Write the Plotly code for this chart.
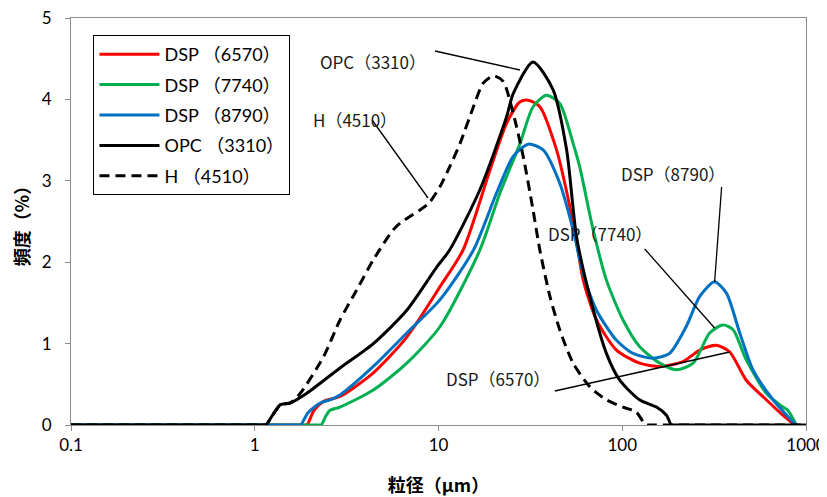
import plotly.graph_objects as go

# ---- data (particle size in µm, frequency in %) ----
dsp6570_x = [0.1, 0.5, 1.5, 1.9, 1.93, 2.1, 2.37, 2.91, 4.42, 6.72, 10.2, 13.6, 19.05, 23.5, 27.8, 30.8, 35.6, 43.9, 50.0, 56.4, 61.3, 72.4, 93, 124.5, 160, 214, 264, 325, 384, 473, 608, 748, 866]
dsp6570_y = [0, 0, 0, 0, 0, 0.18, 0.29, 0.35, 0.64, 1.08, 1.70, 2.15, 3.13, 3.71, 3.97, 3.99, 3.91, 3.38, 2.85, 2.25, 1.78, 1.29, 0.92, 0.76, 0.72, 0.78, 0.92, 0.98, 0.90, 0.55, 0.31, 0.12, 0]

dsp7740_x = [0.1, 0.5, 1.5, 2.25, 2.3, 2.45, 2.57, 2.91, 4.42, 6.72, 10.2, 16.8, 21.6, 27.8, 32.7, 38.7, 45.7, 54, 58.7, 69.4, 82, 101, 124.5, 160, 197, 243, 299, 353, 401, 473, 608, 718, 796, 885]
dsp7740_y = [0, 0, 0, 0, 0, 0.12, 0.18, 0.22, 0.43, 0.76, 1.21, 2.15, 2.85, 3.46, 3.91, 4.05, 3.95, 3.46, 3.17, 2.40, 1.78, 1.29, 0.96, 0.76, 0.68, 0.76, 1.13, 1.23, 1.17, 0.80, 0.39, 0.25, 0.18, 0]

dsp8790_x = [0.1, 0.5, 1.3, 1.75, 1.78, 1.95, 2.27, 2.57, 2.91, 4.42, 6.72, 10.2, 15.5, 20.7, 25.5, 30.8, 37.1, 45.7, 54, 61.3, 72.4, 93, 114.5, 147, 181, 223, 264, 318, 369, 436, 514, 661, 847, 880]
dsp8790_y = [0, 0, 0, 0, 0, 0.15, 0.27, 0.31, 0.37, 0.72, 1.13, 1.54, 2.15, 2.85, 3.30, 3.45, 3.38, 2.97, 2.40, 1.86, 1.41, 1.04, 0.88, 0.82, 0.88, 1.21, 1.58, 1.76, 1.62, 1.13, 0.68, 0.31, 0.04, 0]

opc3310_x = [0.1, 0.4, 0.9, 1.12, 1.15, 1.25, 1.38, 1.56, 1.92, 2.91, 4.42, 6.72, 9.78, 11.5, 16.8, 23.5, 25.5, 32.7, 42, 49.8, 56.4, 66.6, 82, 96.9, 124, 153.5, 174, 185, 190, 300, 1000]
opc3310_y = [0, 0, 0, 0, 0, 0.12, 0.25, 0.27, 0.39, 0.70, 1.00, 1.41, 1.94, 2.15, 2.89, 3.79, 4.07, 4.46, 4.12, 3.38, 2.31, 1.58, 0.88, 0.55, 0.31, 0.22, 0.12, 0, 0, 0, 0]

h4510_x = [0.1, 0.4, 0.9, 1.12, 1.15, 1.25, 1.38, 1.56, 1.77, 2.37, 2.91, 3.59, 4.42, 5.68, 6.18, 8.81, 10.2, 11.5, 13.1, 15.5, 17.5, 19.9, 22.5, 25.5, 28.9, 32.7, 35.6, 40.4, 45.7, 54, 66.6, 82, 101, 119, 130, 136, 140, 300, 1000]
h4510_y = [0, 0, 0, 0, 0, 0.12, 0.25, 0.27, 0.39, 0.84, 1.29, 1.66, 2.03, 2.40, 2.48, 2.72, 2.93, 3.17, 3.46, 3.91, 4.20, 4.29, 4.22, 3.83, 3.30, 2.64, 2.15, 1.58, 1.17, 0.76, 0.47, 0.31, 0.22, 0.16, 0.04, 0, 0, 0, 0]

series_names = ["DSP（6570）", "DSP（7740）", "DSP（8790）", "OPC（3310）", "H（4510）"]
legend_names = ["DSP （6570）", "DSP （7740）", "DSP （8790）", "OPC （3310）", "H （4510）"]
x_tick_vals = [0.1, 1, 10, 100, 1000]
x_tick_text = ["0.1", "1", "10", "100", "1000"]
y_tick_vals = [0, 1, 2, 3, 4, 5]

colors = ["#FF0000", "#00B050", "#0070C0", "#000000", "#000000"]
dashes = ["solid", "solid", "solid", "solid", "10px,6px"]
xs = [dsp6570_x, dsp7740_x, dsp8790_x, opc3310_x, h4510_x]
ys = [dsp6570_y, dsp7740_y, dsp8790_y, opc3310_y, h4510_y]

LAT = "Lato, 'Noto Sans CJK JP', sans-serif"
CJK = "'Noto Sans CJK JP', sans-serif"

fig = go.Figure()
for nm, x, y, c, d in zip(legend_names, xs, ys, colors, dashes):
    fig.add_trace(go.Scatter(
        x=x, y=y, mode="lines", name=nm, legendgroup=nm,
        line=dict(color=c, width=3, dash=d, shape="spline", smoothing=0.7),
    ))

# the page places the figure 8px in from the window's top-left corner
OFF = 8
W, H = 827 - OFF, 497 - OFF
# plot area in window pixels: x 70.5..806.5, y 18..425
WL, WR, WT, WB = 70.5, 806.5, 18, 425
def px(xp):
    return (xp - WL) / (WR - WL)
def py(yp):
    return (WB - yp) / (WB - WT)

labels = [
    # text, text centre (window px), leader line start, end
    (series_names[3], 373, 47, (435, 51), (520, 70)),
    (series_names[4], 355, 105, (372, 120), (428, 198)),
    (series_names[2], 727, 173, (722, 187), (715, 282)),
    (series_names[1], 654, 233, (645, 249), (715, 328)),
    (series_names[0], 498, 393, (555, 391), (730, 352)),
]
for txt, cx, cy, p0, p1 in labels:
    fig.add_annotation(x=px(cx), y=py(cy), xref="paper", yref="paper",
                       text=txt, showarrow=False,
                       font=dict(family=CJK, size=17, color="#1a1a1a"))
    fig.add_shape(type="line", xref="paper", yref="paper",
                  x0=px(p0[0]), y0=py(p0[1]), x1=px(p1[0]), y1=py(p1[1]),
                  line=dict(color="black", width=1.3))

axis_common = dict(showline=True, linecolor="#8C8C8C", linewidth=1, mirror=True,
                   ticks="outside", ticklen=5, tickcolor="#8C8C8C",
                   showgrid=False, zeroline=False, automargin=False,
                   ticklabeloverflow="allow",
                   tickfont=dict(family=LAT, size=17, color="black"))

fig.update_layout(
    width=W, height=H,
    margin=dict(l=WL - OFF, r=W - (WR - OFF), t=WT - OFF, b=H - (WB - OFF), autoexpand=False),
    paper_bgcolor="white", plot_bgcolor="white",
    xaxis=dict(type="log", range=[-1, 3], tickvals=x_tick_vals, ticktext=x_tick_text,
               title=dict(text="<b>粒径（μm）</b>", font=dict(family=CJK, size=18, color="black"), standoff=24),
               **axis_common),
    yaxis=dict(range=[0, 5], tickvals=y_tick_vals, ticklabelstandoff=10,
               title=dict(text="<b>頻度（%）</b>", font=dict(family=CJK, size=18, color="black"), standoff=8),
               **axis_common),
    legend=dict(x=px(93), y=py(35), xanchor="left", yanchor="top",
                bordercolor="black", borderwidth=1, bgcolor="white",
                font=dict(family=LAT, size=18, color="black"),
                itemwidth=60,
                traceorder="grouped", tracegroupgap=4),
    showlegend=True,
)

fig.write_html("out.html")
